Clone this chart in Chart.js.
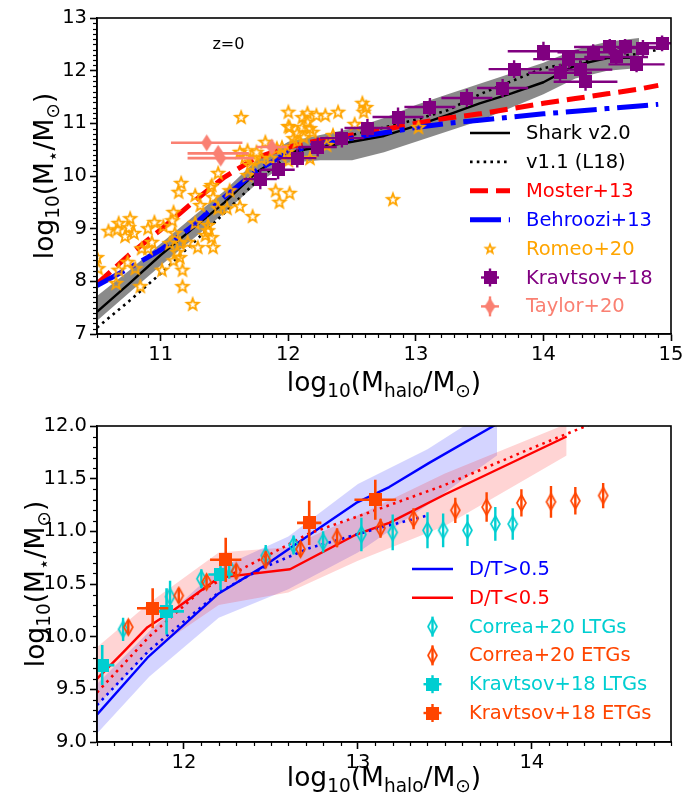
<!DOCTYPE html>
<html><head><meta charset="utf-8">
<script src="https://cdn.jsdelivr.net/npm/chart.js@4.4.0/dist/chart.umd.min.js"></script>
<style>
html,body{margin:0;padding:0;background:#fff;}
#wrap{position:relative;width:687px;height:800px;overflow:hidden;}
.box{position:absolute;left:0;width:687px;height:400px;}
</style></head><body>
<div id="wrap">
<div class="box" style="top:0"><canvas id="c1" width="687" height="400"></canvas></div>
<div class="box" style="top:400px"><canvas id="c2" width="687" height="400"></canvas></div>
</div>
<script>
// ================= TOP PANEL DATA =================
const topXTicks = [11, 12, 13, 14, 15];
const topYTicks = [7, 8, 9, 10, 11, 12, 13];

const sharkX  = [10.5,10.75,11,11.25,11.5,11.75,12,12.25,12.5,12.75,13,13.25,13.5,13.75,14,14.25,14.5,14.75];
const sharkY  = [7.42,7.95,8.5,9.0,9.5,10.07,10.45,10.55,10.65,10.76,10.95,11.16,11.38,11.57,11.78,12.1,12.24,12.25];
const sharkLo = [7.25,7.78,8.3,8.8,9.3,9.85,10.25,10.3,10.3,10.45,10.65,10.85,11.05,11.3,11.55,11.85,12.0,12.05];
const sharkHi = [7.72,8.2,8.72,9.22,9.72,10.3,10.65,10.78,10.9,11.1,11.35,11.55,11.75,11.95,12.15,12.4,12.55,12.62];

const v11X = [10.5,10.75,11,11.25,11.5,11.75,12,12.25,12.5,12.75,13,13.25,13.5,13.75,14,14.25,14.5,14.75,14.9];
const v11Y = [7.12,7.62,8.15,8.72,9.3,9.9,10.4,10.6,10.78,10.92,11.07,11.25,11.55,11.8,12.05,12.15,12.25,12.32,12.4];

const mosterX = [10.5,10.75,11,11.25,11.5,11.75,12,12.25,12.5,12.75,13,13.25,13.5,13.75,14,14.25,14.5,14.75,14.9];
const mosterY = [7.95,8.5,8.98,9.5,9.98,10.35,10.55,10.68,10.78,10.88,11.0,11.1,11.18,11.28,11.38,11.47,11.56,11.65,11.72];

const behrooziX = [10.5,10.75,11,11.25,11.5,11.75,12,12.25,12.5,12.75,13,13.25,13.5,13.75,14,14.25,14.5,14.75,14.9];
const behrooziY = [7.92,8.25,8.6,9.05,9.6,10.1,10.45,10.62,10.72,10.82,10.92,11.0,11.06,11.12,11.18,11.23,11.28,11.33,11.36];

const romeoX = [11.63,12.00,12.00,12.11,12.15,12.22,12.29,12.39,12.58,12.61,12.59,12.52,12.15,12.11,12.17,12.19,12.07,12.12,12.04,11.82,
11.95,11.99,11.91,11.68,11.75,11.62,11.66,11.72,11.79,11.86,11.70,11.68,11.45,11.16,11.14,11.40,11.27,11.41,11.31,11.54,
11.62,11.72,11.45,11.52,11.10,11.09,10.76,10.67,10.59,10.66,10.72,10.79,10.75,10.90,10.95,11.02,10.93,10.85,10.90,11.11,
11.07,11.15,11.21,11.27,11.37,11.37,11.35,11.40,11.41,11.29,11.13,11.10,11.15,11.17,11.01,10.80,10.74,10.67,10.65,10.84,
11.17,11.25,10.51,10.50,11.90,12.01,11.93,12.00,12.82,13.02,12.35,12.30,12.07,12.17,12.01,11.39];
const romeoY = [11.12,11.22,10.95,11.12,11.20,11.16,11.16,11.22,11.39,11.31,11.22,10.99,11.03,10.93,10.91,10.84,10.82,10.74,10.72,10.65,
10.55,10.46,10.53,10.49,10.46,10.46,10.36,10.30,10.34,10.34,10.21,10.02,10.06,9.87,9.70,9.83,9.64,9.60,9.45,9.73,
9.43,9.24,9.39,9.39,9.32,9.16,9.20,9.11,8.96,8.99,8.86,8.92,9.03,9.01,9.13,9.05,8.75,8.63,8.63,8.92,
8.73,8.73,8.75,9.11,9.07,8.97,8.88,8.84,8.65,8.65,8.56,8.40,8.46,8.22,8.22,8.25,8.37,8.22,7.97,7.91,
7.91,7.57,8.25,8.46,9.73,9.68,9.51,10.30,9.56,10.93,10.78,10.59,10.66,10.34,10.93,9.79];

const kravX  = [11.78,11.92,12.07,12.23,12.42,12.62,12.86,13.11,13.40,13.68,13.77,14.00,14.13,14.20,14.29,14.33,14.39,14.52,14.57,14.64,14.73,14.78,14.93];
const kravY  = [9.94,10.12,10.34,10.55,10.72,10.91,11.12,11.31,11.48,11.67,12.03,12.37,11.96,12.22,12.02,11.79,12.35,12.45,12.26,12.45,12.12,12.43,12.52];
const kravXe = [0.13,0.13,0.15,0.15,0.17,0.18,0.20,0.20,0.20,0.20,0.20,0.28,0.25,0.28,0.25,0.25,0.28,0.28,0.25,0.25,0.22,0.20,0.15];
const kravYe = [0.19,0.18,0.18,0.18,0.18,0.17,0.18,0.17,0.17,0.17,0.17,0.18,0.17,0.17,0.17,0.17,0.15,0.15,0.15,0.15,0.15,0.15,0.15];

const taylorX  = [11.36,11.45,11.47,11.87];
const taylorY  = [10.63,10.43,10.34,10.55];
const taylorXe = [0.28,0.24,0.26,0.12];

// ================= BOTTOM PANEL DATA =================
const botXTicks = [12, 13, 14];
const botYTicks = [9.0, 9.5, 10.0, 10.5, 11.0, 11.5, 12.0];

const dtHighX = [11.5,11.79,12.2,12.45,12.76,12.99,13.18,13.41,13.8];
const dtHighY = [9.26,9.8,10.41,10.66,11.01,11.27,11.42,11.65,12.02];
const dtHighBandX = [11.5,11.8,12.2,12.6,13.0,13.4,13.8];
const dtHighLo = [9.08,9.62,10.18,10.45,10.8,11.25,11.72];
const dtHighHi = [9.55,10.05,10.65,10.95,11.45,11.78,12.2];

const dtLowX = [11.5,11.65,11.79,11.94,12.2,12.61,12.99,13.18,13.5,14.2];
const dtLowY = [9.6,9.85,10.09,10.25,10.56,10.64,10.97,11.08,11.35,11.9];
const dtLowBandX = [11.5,11.8,12.2,12.6,13.0,13.5,14.2];
const dtLowLo = [9.35,9.85,10.3,10.42,10.72,11.05,11.72];
const dtLowHi = [9.9,10.32,10.8,10.85,11.15,11.55,12.02];

const v11HighX = [11.5,11.8,12.2,12.45,12.72,13.14,13.4];
const v11HighY = [9.35,9.87,10.42,10.65,10.84,11.04,11.15];
const v11LowX = [11.5,11.8,12.1,12.4,12.72,13.1,13.5,14.0,14.4];
const v11LowY = [9.47,10.0,10.44,10.7,10.98,11.2,11.44,11.79,12.06];

const correaLtgX = [11.65,11.92,12.1,12.26,12.47,12.63,12.8,13.02,13.2,13.4,13.49,13.63,13.79,13.89];
const correaLtgY = [10.07,10.38,10.55,10.66,10.77,10.87,10.9,10.97,10.99,11.01,11.01,11.01,11.07,11.07];
const correaLtgE = [0.11,0.15,0.09,0.11,0.1,0.09,0.1,0.16,0.17,0.17,0.16,0.15,0.16,0.15];

const correaEtgX = [11.68,11.97,12.13,12.3,12.47,12.67,12.88,13.13,13.32,13.56,13.74,13.94,14.11,14.25,14.41];
const correaEtgY = [10.09,10.39,10.52,10.62,10.73,10.83,10.94,11.03,11.12,11.2,11.23,11.27,11.28,11.29,11.34];
const correaEtgE = [0.06,0.07,0.06,0.07,0.08,0.07,0.09,0.09,0.1,0.12,0.14,0.13,0.15,0.13,0.12];

const kravLtgX = [11.53,11.9,12.21];
const kravLtgY = [9.73,10.24,10.59];
const kravLtgXe = [0.07,0.1,0.07];
const kravLtgYe = [0.19,0.22,0.15];

const kravEtgX = [11.82,12.24,12.72,13.1];
const kravEtgY = [10.27,10.73,11.08,11.3];
const kravEtgXe = [0.09,0.09,0.07,0.12];
const kravEtgYe = [0.19,0.21,0.21,0.19];

// ================= HELPERS =================
const FAM = "'DejaVu Sans', sans-serif";
const TICK_FS = 19.5, LEG_FS = 19.5, TITLE_FS = 26.5;
const ORANGE = '#FFA500', PURPLE = '#800080', SALMON = '#FA8072', CYAN = '#00CED1', ORED = '#FF4500';

function starImg(r, color, lw) {
  const s = Math.ceil(2 * r + lw + 3);
  const c = document.createElement('canvas'); c.width = s; c.height = s;
  const g = c.getContext('2d'); const cx = s / 2, cy = s / 2 + r * 0.1;
  g.beginPath();
  for (let k = 0; k < 10; k++) {
    const rr = k % 2 === 0 ? r : r * 0.42;
    const a = -Math.PI / 2 + k * Math.PI / 5;
    const px = cx + rr * Math.cos(a), py = cy + rr * Math.sin(a);
    if (k) g.lineTo(px, py); else g.moveTo(px, py);
  }
  g.closePath(); g.lineWidth = lw; g.strokeStyle = color; g.lineJoin = 'miter'; g.stroke();
  return c;
}
function diamondImg(w, h, stroke, fill, lw) {
  const c = document.createElement('canvas'); c.width = Math.ceil(w + lw + 2); c.height = Math.ceil(h + lw + 2);
  const g = c.getContext('2d'); const cx = c.width / 2, cy = c.height / 2;
  g.beginPath(); g.moveTo(cx, cy - h / 2); g.lineTo(cx + w / 2, cy); g.lineTo(cx, cy + h / 2); g.lineTo(cx - w / 2, cy); g.closePath();
  if (fill) { g.fillStyle = fill; g.fill(); }
  if (stroke) { g.lineWidth = lw; g.strokeStyle = stroke; g.stroke(); }
  return c;
}
function squareImg(side, color) {
  const c = document.createElement('canvas'); c.width = side; c.height = side;
  const g = c.getContext('2d'); g.fillStyle = color; g.fillRect(0, 0, side, side);
  return c;
}
const imgStar = starImg(6.2, ORANGE, 1.8);
const imgStarLeg = starImg(4.6, ORANGE, 1.7);
const imgPurpleSq = squareImg(13, PURPLE);
const imgTaylor = diamondImg(11, 17, null, SALMON, 0);
const imgCyanDia = diamondImg(9, 16, CYAN, null, 1.7);
const imgOredDia = diamondImg(9, 16, ORED, null, 1.7);
const imgCyanSq = squareImg(13, CYAN);
const imgOredSq = squareImg(13, ORED);

function pts(xs, ys) { return xs.map((x, i) => ({ x: x, y: ys[i] })); }
function lineDS(xs, ys, color, width, dash, extra) {
  return Object.assign({ data: pts(xs, ys), showLine: true, borderColor: color, borderWidth: width,
    borderDash: dash || [], pointRadius: 0, pointHoverRadius: 0, fill: false, tension: 0,
    borderCapStyle: 'butt', borderJoinStyle: 'round', spanGaps: false }, extra || {});
}
function bandDS(xs, ys, fillColor) {
  return lineDS(xs, ys, 'rgba(0,0,0,0)', 1, [], fillColor ? { fill: '-1', backgroundColor: fillColor } : {});
}
function markerDS(xs, ys, img) {
  return { data: pts(xs, ys), showLine: false, pointStyle: img, pointRadius: 5, pointHoverRadius: 5,
    backgroundColor: 'rgba(0,0,0,0)', borderColor: 'rgba(0,0,0,0)' };
}
function errDS(xs, ys, xe, ye, color, width) {
  const d = [];
  xs.forEach((x, i) => {
    if (xe) d.push({ x: x - xe[i], y: ys[i] }, { x: x + xe[i], y: ys[i] }, { x: x, y: null });
    if (ye) d.push({ x: x, y: ys[i] - ye[i] }, { x: x, y: ys[i] + ye[i] }, { x: x, y: null });
  });
  return { data: d, showLine: true, borderColor: color, borderWidth: width, pointRadius: 0, pointHoverRadius: 0,
    spanGaps: false, fill: false, tension: 0, borderCapStyle: 'butt' };
}
function ordered(list) { list.forEach((d, i) => { d.order = list.length - i; }); return list; }

function richText(ctx, parts, F, cx, cy, rot) {
  const sF = F * 0.7;
  ctx.save();
  ctx.translate(cx, cy); if (rot) ctx.rotate(-Math.PI / 2);
  let w = 0;
  const ws = parts.map(p => { ctx.font = (p[1] ? sF : F) + 'px ' + FAM; const m = ctx.measureText(p[0]).width; w += m; return m; });
  let x = -w / 2;
  ctx.fillStyle = '#000'; ctx.textBaseline = 'alphabetic'; ctx.textAlign = 'left';
  parts.forEach((p, i) => { ctx.font = (p[1] ? sF : F) + 'px ' + FAM; ctx.fillText(p[0], x, 0.3 * F + (p[1] ? 0.22 * F : 0)); x += ws[i]; });
  ctx.restore();
}
const xTitleParts = [['log', 0], ['10', 1], ['(M', 0], ['halo', 1], ['/M', 0], ['\u2299', 1], [')', 0]];
const yTitleParts = [['log', 0], ['10', 1], ['(M', 0], ['\u22C6', 1], ['/M', 0], ['\u2299', 1], [')', 0]];

function decorPlugin(cfg) {
  return {
    id: 'decor_' + cfg.name,
    afterDraw(chart) {
      const ctx = chart.ctx, ca = chart.chartArea, xs = chart.scales.x, ys = chart.scales.y;
      ctx.save();
      ctx.strokeStyle = '#000'; ctx.lineWidth = 1.2;
      const isMajor = (v, arr) => arr.some(a => Math.abs(a - v) < 1e-6);
      for (let k = Math.ceil(xs.min / cfg.xMinor - 1e-9); k <= Math.floor(xs.max / cfg.xMinor + 1e-9); k++) {
        const v = k * cfg.xMinor; if (isMajor(v, cfg.xMajor)) continue;
        const p = Math.round(xs.getPixelForValue(v)) + 0.5;
        ctx.beginPath(); ctx.moveTo(p, ca.bottom); ctx.lineTo(p, ca.bottom + 4); ctx.stroke();
      }
      for (let k = Math.ceil(ys.min / cfg.yMinor - 1e-9); k <= Math.floor(ys.max / cfg.yMinor + 1e-9); k++) {
        const v = k * cfg.yMinor; if (isMajor(v, cfg.yMajor)) continue;
        const p = Math.round(ys.getPixelForValue(v)) + 0.5;
        ctx.beginPath(); ctx.moveTo(ca.left - 4, p); ctx.lineTo(ca.left, p); ctx.stroke();
      }
      ctx.lineWidth = 1.6; ctx.strokeStyle = '#000';
      ctx.strokeRect(ca.left, ca.top, ca.right - ca.left, ca.bottom - ca.top);
      richText(ctx, xTitleParts, TITLE_FS, (ca.left + ca.right) / 2, ca.bottom + cfg.xTitleOff, false);
      richText(ctx, yTitleParts, TITLE_FS, cfg.yTitleX, (ca.top + ca.bottom) / 2, true);
      if (cfg.note) {
        ctx.font = cfg.note.size + 'px ' + FAM; ctx.fillStyle = '#000'; ctx.textAlign = 'center'; ctx.textBaseline = 'middle';
        ctx.fillText(cfg.note.text, xs.getPixelForValue(cfg.note.x), ys.getPixelForValue(cfg.note.y));
      }
      const L = cfg.legend;
      L.items.forEach((it, i) => {
        const y = ca.top + L.top + i * L.step;
        const x0 = ca.left + L.left, x1 = x0 + L.handle, xc = (x0 + x1) / 2;
        if (it.kind === 'line') {
          ctx.beginPath(); ctx.setLineDash(it.dash || []); ctx.lineWidth = it.width; ctx.strokeStyle = it.color; ctx.lineCap = 'butt';
          ctx.moveTo(x0, y); ctx.lineTo(x1, y); ctx.stroke(); ctx.setLineDash([]);
        } else {
          ctx.strokeStyle = it.color; ctx.lineWidth = it.errWidth || 2.4;
          if (it.h) { ctx.beginPath(); ctx.moveTo(xc - it.h, y); ctx.lineTo(xc + it.h, y); ctx.stroke(); }
          if (it.v) { ctx.beginPath(); ctx.moveTo(xc, y - it.v); ctx.lineTo(xc, y + it.v); ctx.stroke(); }
          ctx.drawImage(it.img, xc - it.img.width / 2, y - it.img.height / 2);
        }
        ctx.font = LEG_FS + 'px ' + FAM; ctx.fillStyle = it.textColor; ctx.textAlign = 'left'; ctx.textBaseline = 'middle';
        ctx.fillText(it.text, x1 + L.gap, y + 1);
      });
      ctx.restore();
    }
  };
}

function axisX(min, max, ticks, fmt, h) {
  return { type: 'linear', min: min, max: max,
    afterBuildTicks: s => { s.ticks = ticks.map(v => ({ value: v })); },
    afterFit: s => { s.height = h; },
    ticks: { color: '#000', font: { family: FAM, size: TICK_FS }, padding: 2, autoSkip: false, maxRotation: 0, includeBounds: false, callback: fmt },
    grid: { drawOnChartArea: false, drawTicks: true, tickLength: 7, tickWidth: 1.6, tickColor: '#000' },
    border: { display: true, color: '#000', width: 1.6 } };
}
function axisY(min, max, ticks, fmt) {
  return { type: 'linear', min: min, max: max,
    afterBuildTicks: s => { s.ticks = ticks.map(v => ({ value: v })); },
    afterFit: s => { s.width = 97; },
    ticks: { color: '#000', font: { family: FAM, size: TICK_FS }, padding: 3, autoSkip: false, includeBounds: false, callback: fmt },
    grid: { drawOnChartArea: false, drawTicks: true, tickLength: 7, tickWidth: 1.6, tickColor: '#000' },
    border: { display: true, color: '#000', width: 1.6 } };
}
const baseOpts = (pad) => ({ responsive: false, animation: false, devicePixelRatio: 1, events: [],
  layout: { padding: pad },
  plugins: { legend: { display: false }, tooltip: { enabled: false } } });

// ================= TOP CHART =================
const topDatasets = ordered([
  bandDS(sharkX, sharkLo, null),
  bandDS(sharkX, sharkHi, 'rgba(128,128,128,0.92)'),
  lineDS(sharkX, sharkY, '#000', 2.4, []),
  lineDS(v11X, v11Y, '#000', 2.6, [2.6, 4.2]),
  lineDS(mosterX, mosterY, '#FF0000', 5, [18, 8]),
  lineDS(behrooziX, behrooziY, '#0000FF', 5, [31, 7.8, 4.9, 7.8]),
  markerDS(romeoX, romeoY, imgStar),
  errDS(kravX, kravY, kravXe, kravYe, PURPLE, 2.4),
  markerDS(kravX, kravY, imgPurpleSq),
  errDS(taylorX, taylorY, taylorXe, null, SALMON, 2.6),
  markerDS(taylorX, taylorY, imgTaylor)
]);
const topScales = { x: axisX(10.5, 15, topXTicks, v => String(v), 66), y: axisY(7, 13, topYTicks, v => String(v)) };
new Chart(document.getElementById('c1'), {
  type: 'scatter',
  data: { datasets: topDatasets },
  options: Object.assign(baseOpts({ top: 18, right: 16, left: 0, bottom: 0 }), { scales: topScales }),
  plugins: [decorPlugin({ name: 'top', xMinor: 0.1, yMinor: 0.1, xMajor: topXTicks, yMajor: topYTicks,
    xTitleOff: 49, yTitleX: 45,
    note: { text: 'z=0', x: 11.53, y: 12.49, size: 16 },
    legend: { left: 373, top: 115, step: 28.9, handle: 40, gap: 16, items: [
      { kind: 'line', color: '#000', width: 2.4, dash: [], text: 'Shark v2.0', textColor: '#000' },
      { kind: 'line', color: '#000', width: 2.6, dash: [2.6, 4.2], text: 'v1.1 (L18)', textColor: '#000' },
      { kind: 'line', color: '#FF0000', width: 5, dash: [18, 8], text: 'Moster+13', textColor: '#FF0000' },
      { kind: 'line', color: '#0000FF', width: 5, dash: [31, 7.8, 4.9, 7.8], text: 'Behroozi+13', textColor: '#0000FF' },
      { kind: 'marker', img: imgStarLeg, color: ORANGE, text: 'Romeo+20', textColor: ORANGE },
      { kind: 'marker', img: imgPurpleSq, color: PURPLE, h: 9, v: 9, text: 'Kravtsov+18', textColor: PURPLE },
      { kind: 'marker', img: imgTaylor, color: SALMON, h: 9, v: 10, text: 'Taylor+20', textColor: SALMON }
    ] } })]
});

// ================= BOTTOM CHART =================
const botDatasets = ordered([
  bandDS(dtHighBandX, dtHighLo, null),
  bandDS(dtHighBandX, dtHighHi, 'rgba(0,0,255,0.17)'),
  bandDS(dtLowBandX, dtLowLo, null),
  bandDS(dtLowBandX, dtLowHi, 'rgba(255,0,0,0.17)'),
  lineDS(dtHighX, dtHighY, '#0000FF', 2.4, []),
  lineDS(dtLowX, dtLowY, '#FF0000', 2.4, []),
  lineDS(v11HighX, v11HighY, '#0000FF', 2.6, [2.6, 4.4]),
  lineDS(v11LowX, v11LowY, '#FF0000', 2.6, [2.6, 4.4]),
  errDS(correaLtgX, correaLtgY, null, correaLtgE, CYAN, 2.4),
  markerDS(correaLtgX, correaLtgY, imgCyanDia),
  errDS(correaEtgX, correaEtgY, null, correaEtgE, ORED, 2.4),
  markerDS(correaEtgX, correaEtgY, imgOredDia),
  errDS(kravLtgX, kravLtgY, kravLtgXe, kravLtgYe, CYAN, 2.6),
  markerDS(kravLtgX, kravLtgY, imgCyanSq),
  errDS(kravEtgX, kravEtgY, kravEtgXe, kravEtgYe, ORED, 2.6),
  markerDS(kravEtgX, kravEtgY, imgOredSq)
]);
const botScales = { x: axisX(11.5, 14.8, botXTicks, v => String(v), 58), y: axisY(9, 12, botYTicks, v => Number(v).toFixed(1)) };
new Chart(document.getElementById('c2'), {
  type: 'scatter',
  data: { datasets: botDatasets },
  options: Object.assign(baseOpts({ top: 26, right: 16, left: 0, bottom: 0 }), { scales: botScales }),
  plugins: [decorPlugin({ name: 'bot', xMinor: 0.1, yMinor: 0.1, xMajor: botXTicks, yMajor: botYTicks,
    xTitleOff: 36, yTitleX: 36, note: null,
    legend: { left: 315, top: 143, step: 28.8, handle: 41, gap: 16, items: [
      { kind: 'line', color: '#0000FF', width: 2.4, dash: [], text: 'D/T>0.5', textColor: '#0000FF' },
      { kind: 'line', color: '#FF0000', width: 2.4, dash: [], text: 'D/T<0.5', textColor: '#FF0000' },
      { kind: 'marker', img: imgCyanDia, color: CYAN, v: 10, text: 'Correa+20 LTGs', textColor: CYAN },
      { kind: 'marker', img: imgOredDia, color: ORED, v: 10, text: 'Correa+20 ETGs', textColor: ORED },
      { kind: 'marker', img: imgCyanSq, color: CYAN, h: 9, v: 9, text: 'Kravtsov+18 LTGs', textColor: CYAN },
      { kind: 'marker', img: imgOredSq, color: ORED, h: 9, v: 9, text: 'Kravtsov+18 ETGs', textColor: ORED }
    ] } })]
});
</script>
</body></html>
